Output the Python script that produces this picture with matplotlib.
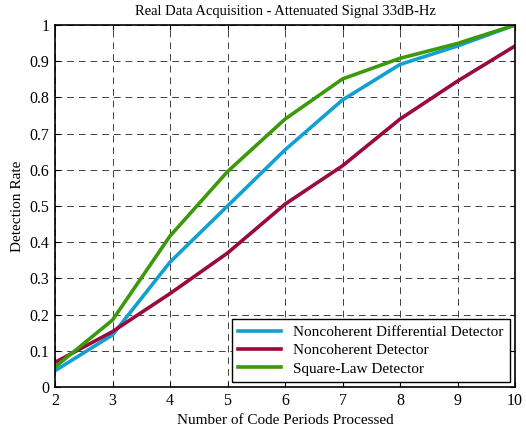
import numpy as np
import matplotlib.pyplot as plt

# Detection rate vs. number of code periods (33 dB-Hz real data)
periods = [2, 3, 4, 5, 6, 7, 8, 9, 10]
ndd_rate = [0.045, 0.144, 0.345, 0.50, 0.655, 0.793, 0.891, 0.942, 1.0]
nd_rate = [0.068, 0.153, 0.258, 0.37, 0.505, 0.611, 0.74, 0.845, 0.942]
sl_rate = [0.055, 0.185, 0.417, 0.595, 0.74, 0.851, 0.908, 0.949, 1.0]

labels = ['Noncoherent Differential Detector', 'Noncoherent Detector',
          'Square-Law Detector']
colors = ['#10a0d2', '#9a0a3e', '#3c9a0a']

plt.rcParams['font.family'] = ['Liberation Serif', 'DejaVu Serif']

fig = plt.figure(figsize=(5.26, 4.32), dpi=100)
ax = fig.add_axes([55 / 526, 1 - 387 / 432, 460 / 526, 362 / 432])

for y, c, lab in zip([ndd_rate, nd_rate, sl_rate], colors, labels):
    ax.plot(periods, y, color=c, lw=2.6, label=lab, solid_joinstyle='miter')

ax.set_xlim(2, 10)
ax.set_ylim(0, 1)
ax.set_xticks(range(2, 11))
ax.set_yticks(np.arange(0, 1.01, 0.1))
ax.set_yticklabels(['0', '0.1', '0.2', '0.3', '0.4', '0.5', '0.6', '0.7',
                    '0.8', '0.9', '1'])
ax.grid(True, color='0.25', ls=(0, (7, 5)), lw=0.7)
ax.tick_params(direction='in', top=True, right=True, labelsize=11.5,
               length=3.5, width=0.8, pad=4)
for s in ax.spines.values():
    s.set_linewidth(1.2)

ax.set_xlabel('Number of Code Periods Processed', fontsize=11, labelpad=4)
ax.set_ylabel('Detection Rate', fontsize=11, labelpad=4)
ax.set_title('Real Data Acquisition - Attenuated Signal 33dB-Hz',
             fontsize=10.5, pad=7)

leg = ax.legend(loc='lower right', fontsize=11, fancybox=False,
                framealpha=1, edgecolor='black', borderaxespad=0.35,
                handlelength=2.8, labelspacing=0.3, borderpad=0.4)
leg.get_frame().set_linewidth(1.0)

fig.savefig('out.png', dpi=100)
